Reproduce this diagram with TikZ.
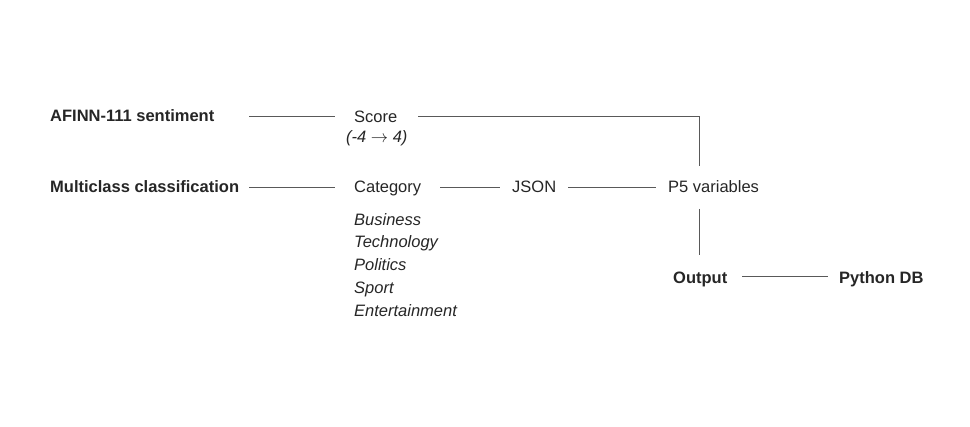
\documentclass[tikz,border=0pt]{standalone}
\usepackage{fontspec}
\setmainfont{Liberation Sans}
\begin{document}
\begin{tikzpicture}[x=1pt,y=-1pt,
  lbl/.style={anchor=base west,inner sep=0pt,text=black!85,font=\fontsize{16.5}{19}\selectfont},
  blbl/.style={lbl,font=\fontsize{16.5}{19}\selectfont\bfseries},
  ilbl/.style={lbl,font=\fontsize{16.5}{19}\selectfont\itshape},
  conn/.style={draw=black!65,line width=0.7pt}]
\useasboundingbox (0,0) rectangle (970,427);
\fill[white] (0,0) rectangle (970,427);
\node[blbl] (afinn) at (50,121.5) {AFINN-111 sentiment};
\node[lbl] (score) at (354,122.5) {Score};
\node[ilbl] (range) at (346,143) {(-4 \raisebox{0.5pt}{$\rightarrow$} 4)};
\node[blbl] (multi) at (50,192.5) {Multiclass classification};
\node[lbl] (cat) at (354,192.5) {Category};
\node[lbl] (json) at (512,192.5) {JSON};
\node[lbl] (p5) at (668,192.5) {P5 variables};
\node[ilbl] (b1) at (354,225.5) {Business};
\node[ilbl] (b2) at (354,248) {Technology};
\node[ilbl] (b3) at (354,270.5) {Politics};
\node[ilbl] (b4) at (354,293.5) {Sport};
\node[ilbl] (b5) at (354,316.5) {Entertainment};
\node[blbl] (out) at (673,283.5) {Output};
\node[blbl] (py) at (839,283.5) {Python DB};
\coordinate (a1) at (249,116);
\coordinate (a2) at (335,116);
\coordinate (s1) at (418,116);
\coordinate (corner) at (699,116);
\coordinate (down) at (699,166);
\coordinate (m1) at (249,187);
\coordinate (m2) at (335,187);
\coordinate (c1) at (440,187);
\coordinate (c2) at (500,187);
\coordinate (j1) at (568,187);
\coordinate (j2) at (656,187);
\coordinate (v1) at (699,209);
\coordinate (v2) at (699,255);
\coordinate (o1) at (742,276);
\coordinate (o2) at (828,276);
\draw[conn] (a1) -- (a2);
\draw[conn] (s1) -- (corner) -- (down);
\draw[conn] (m1) -- (m2);
\draw[conn] (c1) -- (c2);
\draw[conn] (j1) -- (j2);
\draw[conn] (v1) -- (v2);
\draw[conn] (o1) -- (o2);
\end{tikzpicture}
\end{document}
